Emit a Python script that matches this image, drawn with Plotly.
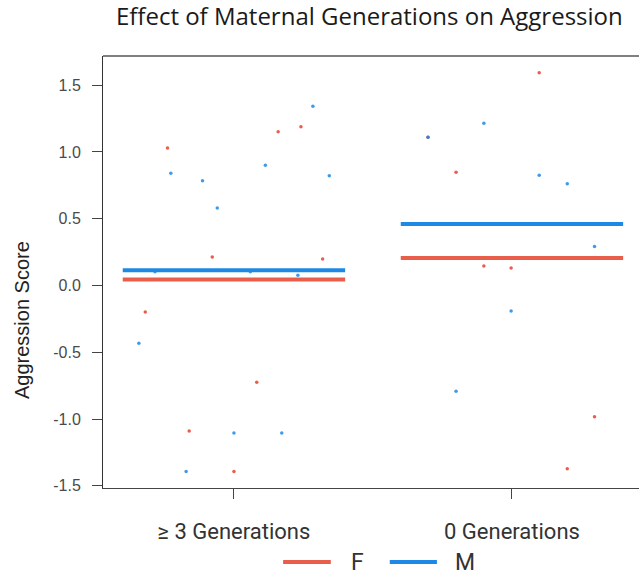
import plotly.graph_objects as go

# ---------------- data ----------------
categories = ["≥ 3 Generations", "0 Generations"]
sexes = ["F", "M"]

# individual scores, per group (0 = ≥3 gen, 1 = 0 gen), with horizontal jitter (category units)
f_group = [0, 0, 0, 0, 0, 0, 0, 0, 0, 1, 1, 1, 1, 1, 1, 1]
f_score = [1.029, 0.213, 1.151, 1.189, 0.198, -0.198, -0.725, -1.089, -1.393,
           1.593, 1.109, 0.847, 0.146, 0.131, -0.982, -1.371]
f_jitter = [-0.239, -0.078, 0.159, 0.241, 0.319, -0.319, 0.082, -0.161, 0.0,
            0.098, -0.302, -0.201, -0.101, -0.003, 0.297, 0.199]

m_group = [0, 0, 0, 0, 0, 0, 0, 0, 0, 0, 0, 0, 0, 1, 1, 1, 1, 1, 1, 1]
m_score = [0.840, 0.785, 0.580, 0.103, 0.103, 0.076, 1.341, 0.900, 0.822, -0.433, -1.104, -1.104, -1.393,
           1.214, 1.109, 0.825, 0.762, 0.291, -0.191, -0.792]
m_jitter = [-0.227, -0.113, -0.060, -0.284, 0.059, 0.230, 0.284, 0.113, 0.343, -0.342, 0.0, 0.172, -0.172,
            -0.101, -0.302, 0.098, 0.199, 0.297, -0.003, -0.201]

# group means
f_mean = [0.045, 0.205]
m_mean = [0.115, 0.460]

y_ticks = [-1.5, -1.0, -0.5, 0.0, 0.5, 1.0, 1.5]
y_ticktext = ["-1.5", "-1.0", "-0.5", "0.0", "0.5", "1.0", "1.5"]

# ---------------- style ----------------
RED = "#E95E4A"
BLUE = "#1E88E5"
COLORS = {"F": RED, "M": BLUE}
HALF = 0.4

def seg(means):
    xs, ys = [], []
    for i, m in enumerate(means):
        xs += [i - HALF, i + HALF, None]
        ys += [m, m, None]
    return xs, ys

fig = go.Figure()

fx, fy = seg(f_mean)
mx, my = seg(m_mean)

fig.add_trace(go.Scatter(x=fx, y=fy, mode="lines", name="F",
                         line=dict(color=RED, width=4), showlegend=False))
fig.add_trace(go.Scatter(x=mx, y=my, mode="lines", name="M",
                         line=dict(color=BLUE, width=4), showlegend=False))

fig.add_trace(go.Scatter(x=[g + j for g, j in zip(f_group, f_jitter)], y=f_score,
                         mode="markers", marker=dict(color=RED, size=3.5),
                         showlegend=False, name="F"))
fig.add_trace(go.Scatter(x=[g + j for g, j in zip(m_group, m_jitter)], y=m_score,
                         mode="markers", marker=dict(color=BLUE, size=3.5, opacity=0.85),
                         showlegend=False, name="M"))

fig.update_layout(
    width=639, height=578,
    margin=dict(l=103, r=0, t=56, b=90),
    paper_bgcolor="white", plot_bgcolor="white",
    title=dict(text="Effect of Maternal Generations on Aggression",
               font=dict(family="Open Sans", size=24, color="#1a1a1a"),
               xref="container", x=0.578, xanchor="center",
               yref="container", y=0.972, yanchor="middle"),
    xaxis=dict(range=[-0.471, 1.457], tickvals=[0, 1], ticktext=categories,
               showgrid=False, zeroline=False, showline=True, linecolor="#444", linewidth=1,
               ticks="outside", ticklen=10, tickcolor="#444", tickwidth=1,
               tickfont=dict(family="Roboto", size=22, color="#333"),
               ticklabelstandoff=14, automargin=False),
    yaxis=dict(range=[-1.516, 1.718], tickvals=y_ticks, ticktext=y_ticktext,
               showgrid=False, zeroline=False, showline=True, linecolor="#333", linewidth=1,
               ticks="outside", ticklen=10, tickcolor="#444", tickwidth=1,
               tickfont=dict(family="Liberation Sans", size=16, color="#4a4a4a"),
               ticklabelstandoff=8, automargin=False),
    showlegend=False,
)

# top frame line
fig.add_shape(type="line", xref="paper", yref="paper", x0=0, x1=1, y0=1, y1=1,
              line=dict(color="#808080", width=2))

# legend (drawn by hand to match line-key length)
legend_y = -0.1713
legend_items = [("F", 0.336, 0.425, 0.474), ("M", 0.535, 0.623, 0.675)]
for name, lx0, lx1, tx in legend_items:
    fig.add_shape(type="line", xref="paper", yref="paper", x0=lx0, x1=lx1,
                  y0=legend_y, y1=legend_y, line=dict(color=COLORS[name], width=4))
    fig.add_annotation(text=name, xref="paper", yref="paper", x=tx, y=legend_y,
                       xanchor="center", yanchor="middle", showarrow=False,
                       font=dict(family="Roboto", size=23, color="#333"))

# y-axis title
fig.add_annotation(text="Aggression Score", xref="paper", yref="paper",
                   x=-0.151, y=0.389, xanchor="center", yanchor="middle",
                   textangle=-90, showarrow=False,
                   font=dict(family="Liberation Sans", size=20, color="#222"))

fig.write_html("out.html")
